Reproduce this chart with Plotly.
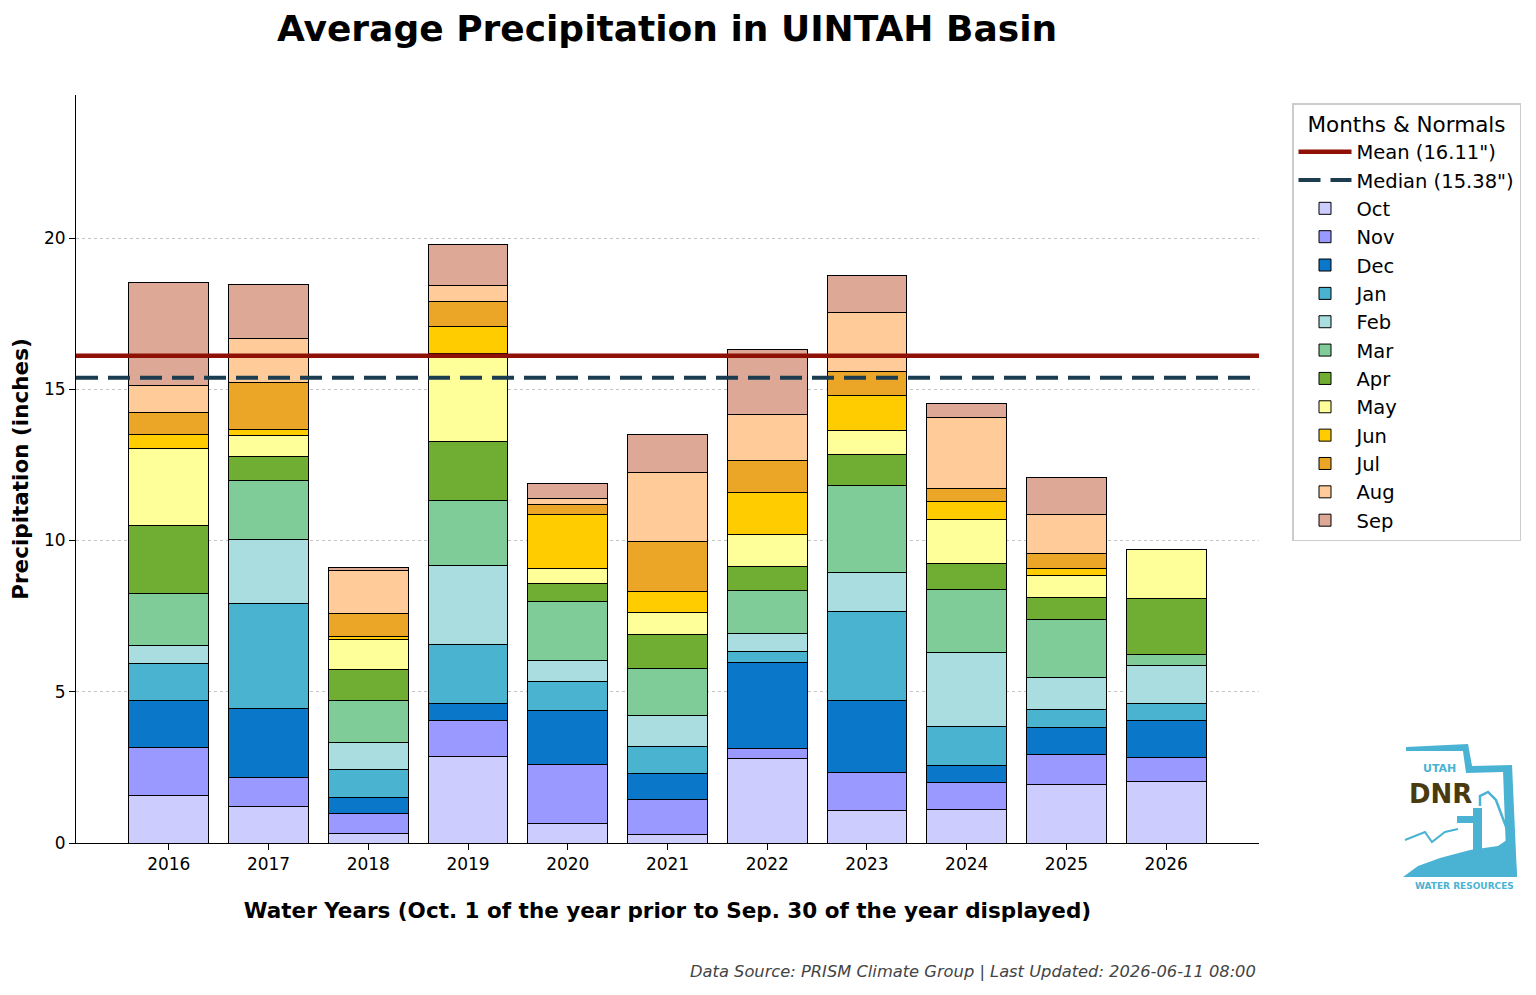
import plotly.graph_objects as go

# Water years and monthly precipitation (inches), stacked Oct -> Sep
years = ["2016", "2017", "2018", "2019", "2020", "2021", "2022", "2023", "2024", "2025", "2026"]
months = ["Oct", "Nov", "Dec", "Jan", "Feb", "Mar", "Apr", "May", "Jun", "Jul", "Aug", "Sep"]

oct_vals = [1.57, 1.20, 0.31, 2.86, 0.64, 0.27, 2.81, 1.08, 1.11, 1.93, 2.03]
nov_vals = [1.59, 0.95, 0.66, 1.19, 1.95, 1.17, 0.32, 1.26, 0.90, 1.00, 0.80]
dec_vals = [1.55, 2.29, 0.52, 0.56, 1.79, 0.86, 2.85, 2.38, 0.56, 0.89, 1.23]
jan_vals = [1.22, 3.48, 0.93, 1.95, 0.95, 0.89, 0.36, 2.94, 1.28, 0.60, 0.56]
feb_vals = [0.60, 2.11, 0.90, 2.62, 0.71, 1.03, 0.59, 1.29, 2.45, 1.06, 1.26]
mar_vals = [1.72, 1.96, 1.39, 2.14, 1.95, 1.54, 1.42, 2.87, 2.09, 1.92, 0.36]
apr_vals = [2.25, 0.78, 1.02, 1.95, 0.59, 1.13, 0.80, 1.02, 0.86, 0.73, 1.86]
may_vals = [2.54, 0.70, 1.01, 2.90, 0.49, 0.73, 1.04, 0.79, 1.45, 0.73, 1.59]
jun_vals = [0.47, 0.20, 0.09, 0.90, 1.79, 0.69, 1.39, 1.17, 0.60, 0.20, None]
jul_vals = [0.72, 1.55, 0.76, 0.83, 0.33, 1.65, 1.06, 0.78, 0.42, 0.50, None]
aug_vals = [0.89, 1.46, 1.42, 0.53, 0.20, 2.29, 1.53, 1.95, 2.35, 1.29, None]
sep_vals = [3.42, 1.78, 0.09, 1.36, 0.49, 1.25, 2.13, 1.22, 0.46, 1.23, None]

month_vals = [oct_vals, nov_vals, dec_vals, jan_vals, feb_vals, mar_vals,
              apr_vals, may_vals, jun_vals, jul_vals, aug_vals, sep_vals]
month_colors = ["#ccccff", "#9999ff", "#0a77c9", "#4ab3cf", "#aadde0", "#80cc99",
                "#70ae33", "#ffff99", "#ffcc00", "#eba628", "#ffcc99", "#dda896"]

mean_val = 16.11
median_val = 15.38

FONT = "DejaVu Sans"
LOGO_BLUE = "#4ab3d3"

fig = go.Figure()

for i, (name, vals, col) in enumerate(zip(months, month_vals, month_colors)):
    fig.add_trace(go.Bar(
        x=years, y=vals, name=name,
        marker=dict(color=col, line=dict(color="black", width=1)),
        width=0.8, legendgroup=name, legendrank=10 + i,
    ))

# normals drawn on an overlaid 0..1 x-axis so they span the full plot width
fig.add_trace(go.Scatter(
    x=[0, 1], y=[mean_val, mean_val], xaxis="x2", mode="lines",
    name=f'Mean ({mean_val:.2f}")', line=dict(color="#8f1106", width=4.5),
    legendgroup="mean", legendrank=1,
))
fig.add_trace(go.Scatter(
    x=[0, 1], y=[median_val, median_val], xaxis="x2", mode="lines",
    name=f'Median ({median_val:.2f}")', line=dict(color="#1b3d4f", width=4, dash="22px,10px"),
    legendgroup="median", legendrank=2,
))

# page pixels -> paper coords (plot area sits at x 76..1259, y 95..843 on the page)
def px(xp):
    return (xp - 76) / (1259 - 76)

def py(yp):
    return (843 - yp) / (843 - 95)

def poly(pts, close=True):
    s = "M " + " L ".join(f"{px(a):.4f},{py(b):.4f}" for a, b in pts)
    return s + (" Z" if close else "")

# rough Utah DNR logo
logo_shapes = [
    # state outline band (top + right)
    dict(type="path", path=poly([(1406, 747), (1468, 744), (1472, 766), (1512, 765), (1517, 877),
                                 (1507, 877), (1503, 772), (1466, 773), (1463, 751), (1406, 751)]),
         fillcolor=LOGO_BLUE, line=dict(width=0)),
    # lower body
    dict(type="path", path=poly([(1403, 877), (1517, 877), (1514, 835), (1498, 846), (1470, 850),
                                 (1440, 858), (1418, 866)]),
         fillcolor=LOGO_BLUE, line=dict(width=0)),
    # pump column and spout
    dict(type="path", path=poly([(1473, 808), (1482, 808), (1482, 870), (1473, 870)]),
         fillcolor=LOGO_BLUE, line=dict(width=0)),
    dict(type="path", path=poly([(1457, 816), (1476, 816), (1476, 823), (1457, 823)]),
         fillcolor=LOGO_BLUE, line=dict(width=0)),
    # handle
    dict(type="path", path=poly([(1480, 806), (1480, 796), (1488, 792), (1496, 800), (1508, 832)], close=False),
         line=dict(color=LOGO_BLUE, width=2.5)),
    # mountains
    dict(type="path", path=poly([(1405, 840), (1425, 832), (1432, 842), (1445, 832), (1458, 829)], close=False),
         line=dict(color=LOGO_BLUE, width=2)),
]
for s in logo_shapes:
    s.update(xref="paper", yref="paper")


def logo_text(text, x, y, size, color):
    return dict(text=text, xref="paper", yref="paper", x=px(x), y=py(y),
                xanchor="center", yanchor="middle", showarrow=False,
                font=dict(size=size, color=color))


FIG_W, FIG_H = 1520, 979

fig.update_layout(
    width=FIG_W, height=FIG_H,
    barmode="stack",
    plot_bgcolor="white", paper_bgcolor="white",
    font=dict(family=FONT, size=17, color="black"),
    margin=dict(l=68, r=269, t=87, b=144),
    title=dict(text="<b>Average Precipitation in UINTAH Basin</b>", x=659 / FIG_W,
               xanchor="center", y=1 - 20 / FIG_H, yanchor="middle", font=dict(size=36)),
    xaxis=dict(type="category", range=[-0.93, 10.93], showline=True, linecolor="black",
               ticks="outside", ticklen=6, tickcolor="black", showgrid=False,
               tickfont=dict(size=17),
               title=dict(text="<b>Water Years (Oct. 1 of the year prior to Sep. 30 of the year displayed)</b>",
                          font=dict(size=21.5), standoff=29)),
    xaxis2=dict(overlaying="x", range=[0, 1], visible=False),
    yaxis=dict(range=[0, 24.73], showline=True, linecolor="black", ticks="outside", ticklen=6,
               tickcolor="black", tickvals=[0, 5, 10, 15, 20], showgrid=True, gridcolor="#c4c4c4",
               griddash="dot", gridwidth=1, zeroline=False, tickfont=dict(size=17),
               title=dict(text="<b>Precipitation (inches)</b>", font=dict(size=21.5), standoff=10)),
    legend=dict(xref="container", yref="container",
                x=(1292 - 8) / FIG_W, y=1 - (103 - 8) / FIG_H, xanchor="left", yanchor="top",
                title=dict(text="Months & Normals", font=dict(size=21.5), side="top center"),
                font=dict(size=19.5), bordercolor="#cccccc", borderwidth=1.5,
                traceorder="grouped", tracegroupgap=0, itemwidth=53),
    annotations=[
        dict(text="<i>Data Source: PRISM Climate Group | Last Updated: 2026-06-11 08:00</i>",
             xref="paper", yref="paper", x=px(1258), y=py(972), xanchor="right", yanchor="middle",
             showarrow=False, font=dict(size=16.3, color="#444444")),
        logo_text("<b>UTAH</b>", 1439, 768, 11, LOGO_BLUE),
        logo_text("<b>DNR</b>", 1440, 794, 26, "#4a3a10"),
        logo_text("<b>WATER RESOURCES</b>", 1464, 886, 9, LOGO_BLUE),
    ],
    shapes=logo_shapes,
)

fig.write_html("out.html")
